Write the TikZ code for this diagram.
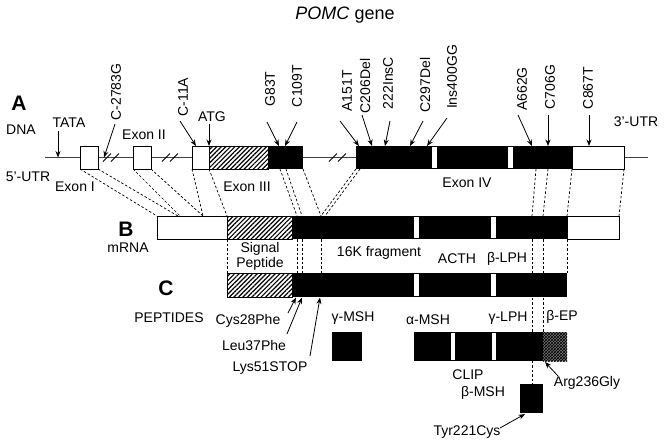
\documentclass[tikz,border=0pt]{standalone}
\usepackage{fontspec}
\setmainfont{Liberation Sans}
\usetikzlibrary{patterns,patterns.meta,arrows.meta}
\begin{document}
\begin{tikzpicture}[x=1pt,y=-1pt,
  lbl/.style={font=\fontsize{14}{16}\selectfont, inner sep=0pt},
  rlbl/.style={lbl, rotate=90},
  big/.style={font=\fontsize{21}{23}\selectfont\bfseries, inner sep=0pt},
  arr/.style={-{Stealth[length=6.5pt,width=5pt]}, line width=0.8pt},
  dsh/.style={dash pattern=on 2.5pt off 2pt, line width=0.7pt},
  wbox/.style={draw, fill=white, line width=0.9pt},
  bbox/.style={fill=black},
  gap/.style={fill=white},
  hbox/.style={draw, line width=0.9pt, pattern={Lines[angle=45,distance=3.2pt,line width=1.2pt]}},
  xbox/.style={fill=black!55, postaction={pattern=crosshatch}},
  dna/.style={line width=0.8pt, black!75},
  brk/.style={line width=0.8pt}
]
\useasboundingbox (0,0) rectangle (664,445);

% title
\node[font=\fontsize{18}{21}\selectfont, inner sep=0pt] (title) at (345,15) {\textit{POMC} gene};

% ---------- dashed connectors (behind boxes) ----------
\foreach \a/\b in {80/157, 98/178, 133/180, 151/203, 192/203, 209/227,
                   280/297, 286/302, 303/321, 356/321, 360/325,
                   536/532, 548/543, 572/567, 624/619}
  \draw[dsh] (\a,169) -- (\b,216);
\foreach \a in {227, 297, 302, 321, 567}
  \draw[dsh] (\a,239) -- (\a,273);
\draw[dsh] (532,239) -- (532,384);
\draw[dsh] (543,239) -- (543,332);

% ---------- A: DNA ----------
\draw[dna] (45,157.5) -- (80,157.5);
\draw[dna] (98,157.5) -- (133,157.5);
\draw[dna] (151,157.5) -- (192,157.5);
\draw[dna] (303,157.5) -- (356,157.5);
\draw[dna] (624,157.5) -- (648,157.5);
\foreach \c in {107,115, 166,174, 333,342}
  \draw[brk] (\c-4,161.5) -- (\c+4,153.5);

\draw[wbox] (80,146) rectangle (98,169);
\draw[wbox] (133,146) rectangle (151,169);
\draw[wbox] (192,146) rectangle (209,169);
\draw[hbox] (209,146) rectangle (268,169);
\fill[bbox] (268,146) rectangle (303,169);
\fill[bbox] (356,146) rectangle (572,169);
\fill[gap] (432,147) rectangle (437,168);
\fill[gap] (508,147) rectangle (513,168);
\draw[wbox] (572,146) rectangle (624,169);

\node[big] (labA) at (19,103) {A};
\node[lbl] (dnaL) at (21,130) {DNA};
\node[lbl] (tata) at (69,123) {TATA};
\node[lbl] (utr5) at (28,177) {5’-UTR};
\node[lbl] (ex1) at (75,187) {Exon I};
\node[lbl] (ex2) at (144,135) {Exon II};
\node[lbl] (atg) at (212,117) {ATG};
\node[lbl] (ex3) at (247,187) {Exon III};
\node[lbl] (ex4) at (467,183) {Exon IV};
\node[lbl] (utr3) at (636,122) {3’-UTR};

\node[rlbl] (m1) at (116,92) {C-2783G};
\node[rlbl] (m2) at (183,97) {C-11A};
\node[rlbl] (m3) at (270,89) {G83T};
\node[rlbl] (m4) at (297,86) {C109T};
\node[rlbl] (m5) at (347,91) {A151T};
\node[rlbl] (m6) at (365,86) {C206Del};
\node[rlbl] (m7) at (388,83) {222InsC};
\node[rlbl] (m8) at (425,85) {C297Del};
\node[rlbl] (m9) at (452,77) {Ins400GG};
\node[rlbl] (m10) at (522,89) {A662G};
\node[rlbl] (m11) at (550,87) {C706G};
\node[rlbl] (m12) at (588,88) {C867T};

\foreach \n/\sx/\sy/\tx/\ty in {tata/58/131/58/157.5, atg/209/124/209/146,
   m1/115/124/104/157.5, m2/180/121/196/146, m3/267/122/279/146,
   m4/297/122/285/146, m5/340/121/359/146, m6/362/115/372/146,
   m7/390/121/385/146, m8/423/121/410/146, m9/447/118/427/146,
   m10/518/115/532/146, m11/548/115/548/146, m12/589/115/589/146}{
  \coordinate (\n s) at (\sx,\sy);
  \coordinate (\n t) at (\tx,\ty);
  \draw[arr] (\n s) -- (\n t);
}

% ---------- B: mRNA ----------
\draw[wbox] (157,216) rectangle (227,239);
\draw[hbox] (227,216) rectangle (292,239);
\fill[bbox] (292,216) rectangle (567,239);
\fill[gap] (414,217) rectangle (419,238);
\fill[gap] (491,217) rectangle (496,238);
\draw[wbox] (567,216) rectangle (619,239);

\node[big] (labB) at (126,229) {B};
\node[lbl] (mrna) at (128,248) {mRNA};
\node[lbl, align=center] (sig) at (260,256.5) {Signal\\[-1pt]Peptide};
\node[lbl] (k16) at (379,253) {16K fragment};
\node[lbl] (acth) at (457,259) {ACTH};
\node[lbl] (blph) at (507,259) {β-LPH};

% ---------- C: peptides ----------
\draw[hbox] (227,273) rectangle (292,297);
\fill[bbox] (292,273) rectangle (567,297);
\fill[gap] (414,274) rectangle (419,296);
\fill[gap] (491,274) rectangle (496,296);

\node[big] (labC) at (166,288) {C};
\node[lbl] (pep) at (169,318) {PEPTIDES};
\node[lbl] (cys) at (248,321) {Cys28Phe};
\node[lbl] (leu) at (254,345) {Leu37Phe};
\node[lbl] (lys) at (270,368) {Lys51STOP};

\node[lbl] (gmsh) at (353,318) {γ-MSH};
\node[lbl] (amsh) at (428,320) {α-MSH};
\node[lbl] (glph) at (508,318) {γ-LPH};
\node[lbl] (bep) at (562,317) {β-EP};

\fill[bbox] (332,332) rectangle (362,361);
\fill[bbox] (414,332) rectangle (543,361);
\fill[gap] (451,333) rectangle (455,360);
\fill[gap] (492,333) rectangle (496,360);
\fill[xbox] (543,332) rectangle (567,361);
\fill[bbox] (520,384) rectangle (543,413);

\node[lbl] (clip) at (468,375) {CLIP};
\node[lbl] (arg) at (587,383) {Arg236Gly};
\node[lbl] (bmsh) at (483,393) {β-MSH};
\node[lbl] (tyr) at (467,432) {Tyr221Cys};

\foreach \n/\sx/\sy/\tx/\ty in {cys/288/313/296/297.5, leu/287/334/302/297.5,
   lys/310/356/320/297.5, arg/558/376/545/362, tyr/500/428/525/414}{
  \coordinate (\n s) at (\sx,\sy);
  \coordinate (\n t) at (\tx,\ty);
  \draw[arr] (\n s) -- (\n t);
}
\end{tikzpicture}
\end{document}
